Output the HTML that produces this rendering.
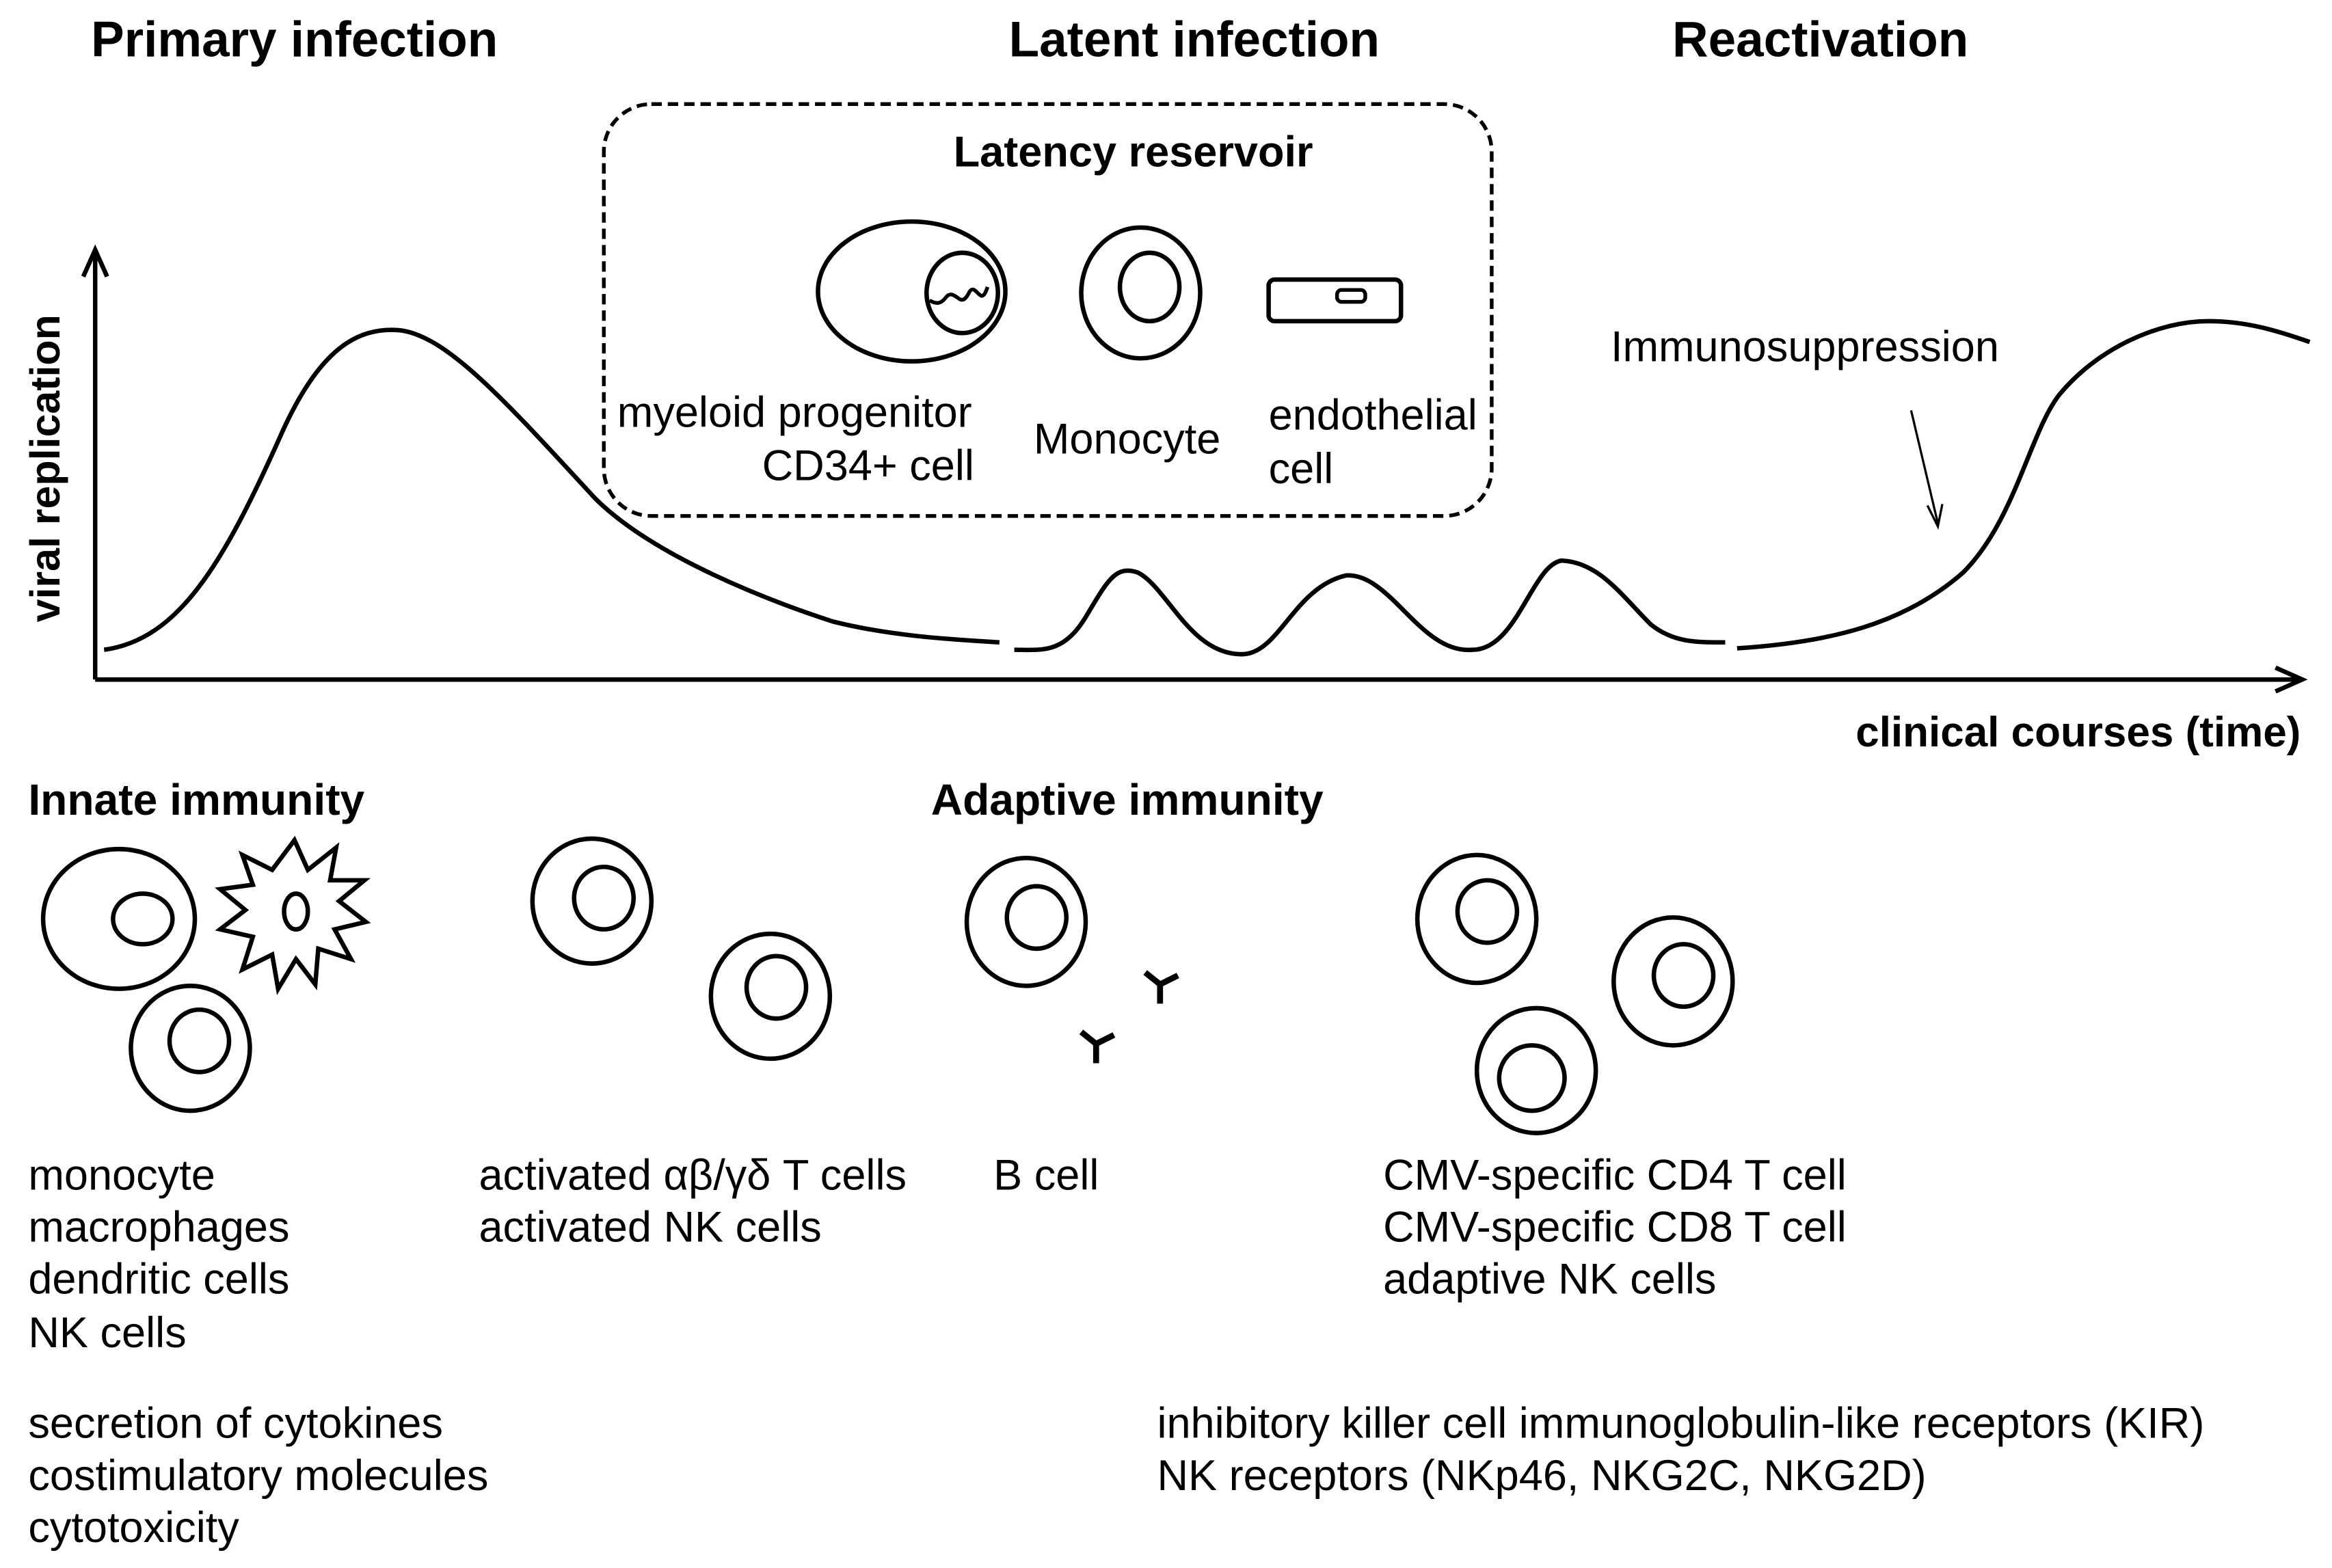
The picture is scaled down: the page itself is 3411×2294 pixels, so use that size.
<!DOCTYPE html>
<html><head><meta charset="utf-8"><style>html,body{margin:0;padding:0;background:#fff}svg{display:block}text{font-family:"Liberation Sans",Arial,sans-serif;fill:#000}</style></head><body>
<svg width="3411" height="2294" viewBox="0 0 1568 1054.5" preserveAspectRatio="none" xmlns="http://www.w3.org/2000/svg">
<g font-weight="bold" font-size="33.5">
<text x="198" y="38" text-anchor="middle">Primary infection</text>
<text x="803" y="38" text-anchor="middle">Latent infection</text>
<text x="1224" y="38" text-anchor="middle">Reactivation</text>
</g>
<rect x="406" y="70" width="597" height="277" rx="32" fill="none" stroke="#000" stroke-width="2.5" stroke-dasharray="7,4"/>
<text x="762" y="112" text-anchor="middle" font-weight="bold" font-size="29">Latency reservoir</text>
<g fill="none" stroke="#000" stroke-width="3">
<ellipse cx="613" cy="196" rx="63" ry="47"/>
<ellipse cx="647" cy="197" rx="24" ry="27"/>
<path d="M625,202 C630,205 633,204 636,200 C639,196 642,199 645,201 C648,203 650,200 652,196 C655,192 657,198 660,199 C662,199 663,196 664,193" stroke-width="2.5"/>
<ellipse cx="767" cy="197" rx="40" ry="44"/>
<ellipse cx="773" cy="193" rx="20" ry="23"/>
<rect x="853" y="188" width="89" height="28" rx="4"/>
<rect x="899" y="195" width="19" height="8" rx="3" stroke-width="2.5"/>
</g>
<g font-size="29">
<text x="415" y="287">myeloid progenitor</text>
<text x="655" y="323" text-anchor="end">CD34+ cell</text>
<text x="695" y="305">Monocyte</text>
<text x="853" y="289">endothelial</text>
<text x="853" y="325">cell</text>
<text x="1083" y="243">Immunosuppression</text>
</g>
<g stroke="#000" fill="none" stroke-width="3">
<line x1="64" y1="457" x2="64" y2="172"/>
<line x1="64" y1="457" x2="1545" y2="457"/>
<path d="M56,186 L64,168 L72,186" />
<path d="M1530,449 L1548,457 L1530,465"/>
<line x1="1285" y1="276" x2="1303" y2="352" stroke-width="1.5"/>
<path d="M1296,340 L1303,354 L1306,339" stroke-width="1.5"/>
<path d="M70,437 C120,430 150,380 190,290 C215,235 240,220 268,222 C300,225 340,270 400,335 C440,375 520,405 560,418 C600,428 640,430 672,432"/>
<path d="M682,437 C700,437 715,440 730,415 C745,390 750,380 765,385 C785,395 800,440 835,440 C860,440 870,395 905,387 C935,385 955,440 990,437 C1020,437 1030,380 1050,377 C1075,378 1090,400 1110,420 C1125,432 1140,432 1160,432"/>
<path d="M1168,436 C1230,432 1280,420 1320,385 C1355,350 1365,290 1385,265 C1410,235 1450,216 1485,216 C1510,216 1530,222 1553,230"/>
</g>
<text transform="translate(40,315) rotate(-90)" text-anchor="middle" font-weight="bold" font-size="28">viral replication</text>
<text x="1547" y="502" text-anchor="end" font-weight="bold" font-size="28.5">clinical courses (time)</text>
<g font-weight="bold" font-size="29.5">
<text x="19" y="548">Innate immunity</text>
<text x="626" y="548">Adaptive immunity</text>
</g>
<g fill="none" stroke="#000" stroke-width="3">
<ellipse cx="80" cy="618" rx="51" ry="47"/>
<ellipse cx="96" cy="618" rx="20" ry="17"/>
<polygon points="198,565 207,585 226,570 222,592 245,592 228,606 246,620 225,625 236,645 214,638 212,662 199,645 187,665 183,642 163,652 170,630 148,625 165,612 148,598 170,595 163,575 183,585"/>
<ellipse cx="199" cy="613" rx="8" ry="12"/>
<ellipse cx="128" cy="705" rx="40" ry="42"/>
<ellipse cx="134" cy="700" rx="20" ry="21"/>
<ellipse cx="398" cy="606" rx="40" ry="42"/>
<ellipse cx="406" cy="604" rx="20" ry="21"/>
<ellipse cx="518" cy="670" rx="40" ry="42"/>
<ellipse cx="522" cy="664" rx="20" ry="21"/>
<ellipse cx="690" cy="620" rx="40" ry="43"/>
<ellipse cx="697" cy="617" rx="20" ry="21"/>
<ellipse cx="993" cy="618" rx="40" ry="43"/>
<ellipse cx="1000" cy="613" rx="20" ry="21"/>
<ellipse cx="1125" cy="660" rx="40" ry="43"/>
<ellipse cx="1132" cy="656" rx="20" ry="21"/>
<ellipse cx="1033" cy="720" rx="40" ry="42"/>
<ellipse cx="1030" cy="725" rx="22" ry="22"/>
<g stroke-width="4">
<path d="M780,675 L780,662 L770,654 M780,662 L792,656"/>
<path d="M737,715 L737,702 L727,694 M737,702 L749,696"/>
</g>
</g>
<g font-size="29">
<text x="19" y="800">monocyte</text>
<text x="19" y="835">macrophages</text>
<text x="19" y="870">dendritic cells</text>
<text x="19" y="906">NK cells</text>
<text x="322" y="800">activated  αβ/γδ T cells</text>
<text x="322" y="835">activated NK cells</text>
<text x="668" y="800">B cell</text>
<text x="930" y="800">CMV-specific  CD4 T cell</text>
<text x="930" y="835">CMV-specific  CD8 T cell</text>
<text x="930" y="870">adaptive NK cells</text>
<text x="19" y="967">secretion of cytokines</text>
<text x="19" y="1002">costimulatory molecules</text>
<text x="19" y="1037">cytotoxicity</text>
<text x="778" y="967">inhibitory killer cell immunoglobulin-like receptors (KIR)</text>
<text x="778" y="1002">NK receptors (NKp46, NKG2C, NKG2D)</text>
</g>
</svg>
</body></html>
